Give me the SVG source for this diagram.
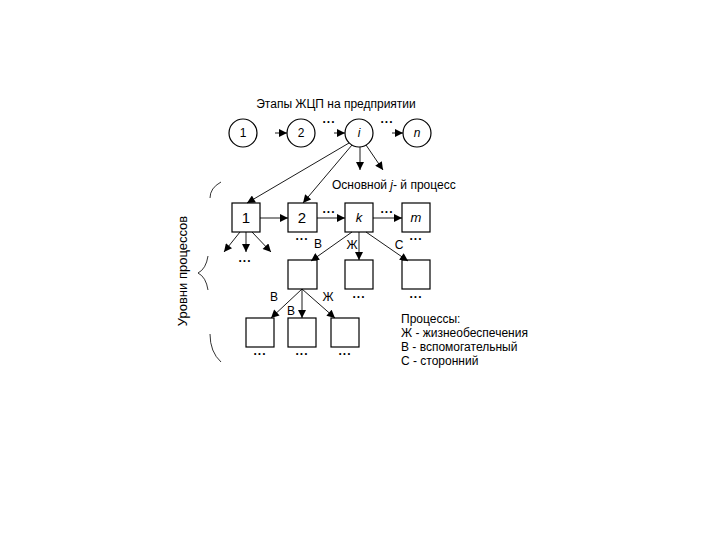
<svg xmlns="http://www.w3.org/2000/svg" width="720" height="540" viewBox="0 0 720 540">
<defs>
<marker id="ah" viewBox="0 0 10 10" refX="10" refY="5" markerWidth="9" markerHeight="8" markerUnits="userSpaceOnUse" orient="auto"><path d="M0,0 L10,5 L0,10 z" fill="#000"/></marker>
</defs>
<style>
.n{fill:#fff;stroke:#000;stroke-width:1.2}
.t{font-family:"Liberation Sans",Arial,sans-serif;font-size:12px;fill:#000}
.c{text-anchor:middle}
.i{font-style:italic}
.big{font-size:15px}
.mid{font-size:13px}
.rot{font-size:13px}
.e{stroke:#000;stroke-width:0.9;fill:none;marker-end:url(#ah)}
.b{stroke:#000;stroke-width:0.8;fill:none}
.d{font-family:"Liberation Sans",Arial,sans-serif;font-size:12px;font-weight:bold;fill:#000;text-anchor:middle;letter-spacing:1px}
</style>
<rect width="720" height="540" fill="#fff"/>
<text class="t c" x="336" y="108">Этапы ЖЦП на предприятии</text>
<g id="c1"><circle class="n" cx="243" cy="133" r="14"/><text class="t c" x="243" y="137">1</text></g>
<g id="c2"><circle class="n" cx="301" cy="133" r="14"/><text class="t c" x="301" y="137">2</text></g>
<g id="ci"><circle class="n" cx="359" cy="133" r="14"/><text class="t c i" x="359" y="137">i</text></g>
<g id="cn"><circle class="n" cx="417" cy="133" r="14"/><text class="t c i" x="417" y="137">n</text></g>
<text class="d" x="329" y="123">...</text>
<text class="d" x="387" y="123">...</text>
<text class="t" x="332" y="189">Основной <tspan class="i">j</tspan>- й процесс</text>
<g id="b1"><rect class="n" x="232" y="203" width="28" height="29"/><text class="t c big" x="246" y="223">1</text></g>
<g id="b2"><rect class="n" x="288" y="203" width="29" height="29"/><text class="t c big" x="302" y="223">2</text></g>
<g id="bk"><rect class="n" x="345" y="203" width="28" height="29"/><text class="t c i mid" x="359" y="222">k</text></g>
<g id="bm"><rect class="n" x="402" y="203" width="28" height="29"/><text class="t c i mid" x="416" y="222">m</text></g>
<text class="d" x="329" y="213">...</text>
<text class="d" x="387" y="213">...</text>
<text class="d" x="302" y="240">...</text>
<text class="d" x="416" y="240">...</text>
<text class="d" x="245" y="262">...</text>
<g id="s1"><rect class="n" x="288" y="260" width="29" height="29"/></g>
<g id="s2"><rect class="n" x="345" y="260" width="28" height="29"/></g>
<g id="s3"><rect class="n" x="402" y="260" width="28" height="29"/></g>
<text class="d" x="359" y="298">...</text>
<text class="d" x="416" y="298">...</text>
<g id="t1"><rect class="n" x="246" y="318" width="28" height="29"/></g>
<g id="t2"><rect class="n" x="288" y="318" width="28" height="29"/></g>
<g id="t3"><rect class="n" x="331" y="318" width="28" height="29"/></g>
<text class="d" x="260" y="355">...</text>
<text class="d" x="302" y="355">...</text>
<text class="d" x="345" y="355">...</text>
<text class="t c" x="318" y="248">В</text>
<text class="t c" x="352" y="249">Ж</text>
<text class="t c" x="399" y="249">С</text>
<text class="t c" x="274" y="301">В</text>
<text class="t c" x="291" y="315">В</text>
<text class="t c" x="328" y="301">Ж</text>
<g id="edges">
<line class="e" x1="275" y1="133" x2="287" y2="133"/>
<line class="e" x1="334" y1="133" x2="345" y2="133"/>
<line class="e" x1="392" y1="133" x2="403" y2="133"/>
<line class="e" x1="349" y1="143" x2="247" y2="203"/>
<line class="e" x1="352" y1="145" x2="303" y2="203"/>
<line class="e" x1="360" y1="147" x2="360" y2="170"/>
<line class="e" x1="366" y1="145" x2="383" y2="170"/>
<line class="e" x1="260" y1="218" x2="288" y2="218"/>
<line class="e" x1="317" y1="218" x2="345" y2="218"/>
<line class="e" x1="373" y1="218" x2="402" y2="218"/>
<line class="e" x1="240" y1="232" x2="224" y2="252"/>
<line class="e" x1="246" y1="232" x2="246" y2="252"/>
<line class="e" x1="252" y1="232" x2="271" y2="252"/>
<line class="e" x1="352" y1="232" x2="311" y2="261"/>
<line class="e" x1="359" y1="232" x2="359" y2="260"/>
<line class="e" x1="366" y1="232" x2="408" y2="261"/>
<line class="e" x1="302" y1="289" x2="271" y2="318"/>
<line class="e" x1="302" y1="289" x2="302" y2="318"/>
<line class="e" x1="302" y1="289" x2="335" y2="318"/>
</g>
<g id="brace">
<path class="b" d="M210,198 Q210,188 221,182"/>
<path class="b" d="M208,256 Q206,269 198,273 Q206,277 208,290"/>
<path class="b" d="M210,334 Q210,352 221,362"/>
</g>
<text class="t c rot" transform="translate(187,271) rotate(-90)">Уровни процессов</text>
<text class="t" x="401" y="323">Процессы:</text>
<text class="t" x="401" y="337">Ж - жизнеобеспечения</text>
<text class="t" x="401" y="351">В - вспомогательный</text>
<text class="t" x="401" y="365">С - сторонний</text>
</svg>
